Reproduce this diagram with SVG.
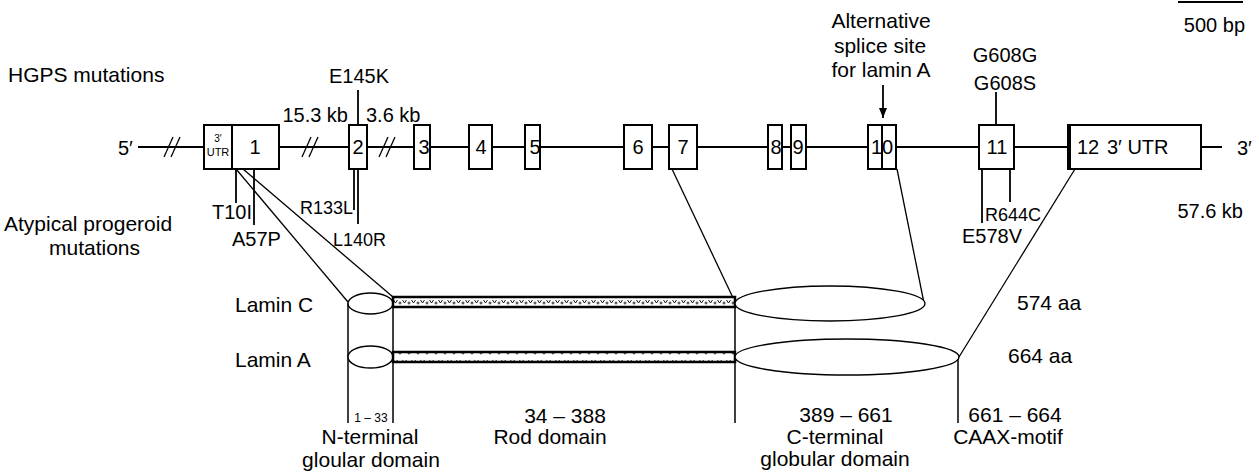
<svg xmlns="http://www.w3.org/2000/svg" width="1259" height="476" viewBox="0 0 1259 476">
<style>
text{font-family:"Liberation Sans",Arial,Helvetica,sans-serif;fill:#000}
.t21{font-size:21px}
.t20{font-size:20px}
.t18{font-size:18px}
.mid{text-anchor:middle}
.exon{fill:#fff;stroke:#000;stroke-width:2}
.ln{fill:none;stroke:#000;stroke-width:2}
.thin{fill:none;stroke:#000;stroke-width:1.3}
.ell{fill:#fff;stroke:#000;stroke-width:1.4}
.rod{fill:url(#hatch);stroke:#000;stroke-width:2.5}
</style>
<defs>
<pattern id="hatch" patternUnits="userSpaceOnUse" x="393" y="297" width="9" height="10">
<rect width="9" height="10" fill="#fff"/>
<path d="M0.5,3 L2.5,6 L4.5,3" fill="none" stroke="#000" stroke-width="0.9"/>
<circle cx="7" cy="6" r="1" fill="none" stroke="#000" stroke-width="0.8"/>
</pattern>
<marker id="arr" markerWidth="10" markerHeight="8" refX="10" refY="4" orient="auto" markerUnits="userSpaceOnUse">
<path d="M0,0 L10,4 L0,8 Z" fill="#000"/>
</marker>
</defs>

<g id="connectors">
<line class="ln" x1="138" y1="147" x2="1222" y2="147"/>
<line class="ln" x1="1178" y1="2" x2="1243" y2="2"/>
<g class="thin">
<line x1="164" y1="157" x2="173" y2="137"/>
<line x1="171" y1="157" x2="180" y2="137"/>
<line x1="302" y1="157" x2="311" y2="137"/>
<line x1="309" y1="157" x2="318" y2="137"/>
<line x1="379" y1="157" x2="388" y2="137"/>
<line x1="386" y1="157" x2="395" y2="137"/>
</g>
<g stroke="#000" stroke-width="1.8" fill="none">
<line x1="358" y1="90" x2="358" y2="125"/>
<line x1="996" y1="92" x2="996" y2="125"/>
<line x1="236" y1="169" x2="236" y2="203"/>
<line x1="254" y1="169" x2="254" y2="225"/>
<line x1="354" y1="169" x2="354" y2="210"/>
<line x1="358" y1="169" x2="358" y2="224"/>
<line x1="982" y1="169" x2="982" y2="223"/>
<line x1="1010" y1="169" x2="1010" y2="202"/>
</g>
<line stroke="#000" stroke-width="1.8" x1="883" y1="85" x2="883" y2="118" marker-end="url(#arr)"/>
<g class="thin">
<line x1="236" y1="169" x2="348" y2="302"/>
<line x1="243" y1="169" x2="393" y2="297"/>
<line x1="672" y1="169" x2="735" y2="302"/>
<line x1="897" y1="169" x2="924" y2="303"/>
<line x1="1075" y1="169" x2="959" y2="357"/>
</g>
<g stroke="#000" stroke-width="1.5">
<line x1="348" y1="303" x2="348" y2="423"/>
<line x1="393" y1="297" x2="393" y2="423"/>
<line x1="735" y1="297" x2="735" y2="423"/>
<line x1="958" y1="357" x2="958" y2="423"/>
</g>
</g>

<g id="exon1"><rect class="exon" x="204" y="125" width="75" height="44"/><line class="ln" x1="232" y1="125" x2="232" y2="169"/>
<text x="218" y="142" class="mid" style="font-size:10px">3′</text><text x="218" y="156" class="mid" style="font-size:11px">UTR</text>
<text x="255" y="154" class="t20 mid">1</text></g>
<g id="exon2"><rect class="exon" x="349" y="125" width="18" height="44"/><text x="358" y="154" class="t20 mid">2</text></g>
<g id="exon3"><rect class="exon" x="414" y="125" width="16" height="44"/><text x="424" y="154" class="t20 mid">3</text></g>
<g id="exon4"><rect class="exon" x="469" y="125" width="23" height="44"/><text x="481" y="154" class="t20 mid">4</text></g>
<g id="exon5"><rect class="exon" x="525" y="125" width="15" height="44"/><text x="535" y="154" class="t20 mid">5</text></g>
<g id="exon6"><rect class="exon" x="624" y="125" width="28" height="44"/><text x="638" y="154" class="t20 mid">6</text></g>
<g id="exon7"><rect class="exon" x="669" y="125" width="28" height="44"/><text x="683" y="154" class="t20 mid">7</text></g>
<g id="exon8"><rect class="exon" x="768" y="125" width="14" height="44"/><text x="776" y="154" class="t20 mid">8</text></g>
<g id="exon9"><rect class="exon" x="791" y="125" width="15" height="44"/><text x="798" y="154" class="t20 mid">9</text></g>
<g id="exon10"><rect class="exon" x="868" y="125" width="28" height="44"/><line class="ln" x1="882" y1="125" x2="882" y2="169"/><text x="882" y="154" class="t20 mid">10</text></g>
<g id="exon11"><rect class="exon" x="979" y="125" width="35" height="44"/><text x="997" y="154" class="t20 mid">11</text></g>
<g id="exon12"><rect class="exon" x="1068" y="125" width="133" height="44"/><line stroke="#000" stroke-width="4" x1="1069" y1="124" x2="1069" y2="170"/><text x="1077" y="154" class="t20">12</text><text x="1107" y="154" class="t20">3′ UTR</text></g>

<g id="gene-labels">
<text x="8" y="82" class="t21">HGPS mutations</text>
<text x="4" y="231" class="t21">Atypical progeroid</text>
<text x="49" y="255" class="t21">mutations</text>
<text x="118" y="155" class="t20">5′</text>
<text x="1237" y="155" class="t20">3′</text>
<text x="1245" y="32" class="t20" text-anchor="end">500 bp</text>
<text x="1243" y="218" class="t20" text-anchor="end">57.6 kb</text>
<text x="348" y="122" class="t20" text-anchor="end">15.3 kb</text>
<text x="366" y="122" class="t20">3.6 kb</text>
<text x="359" y="83" class="t20 mid">E145K</text>
<text x="1005" y="62" class="t20 mid">G608G</text>
<text x="1005" y="90" class="t20 mid">G608S</text>
<text x="881" y="28" class="t21 mid">Alternative</text>
<text x="880" y="53" class="t21 mid">splice site</text>
<text x="881" y="77" class="t21 mid">for lamin A</text>
<text x="212" y="219" class="t20">T10I</text>
<text x="232" y="246" class="t20">A57P</text>
<text x="353" y="214" class="t18" text-anchor="end">R133L</text>
<text x="333" y="246" class="t18">L140R</text>
<text x="985" y="221" class="t18">R644C</text>
<text x="962" y="243" class="t20">E578V</text>
</g>

<g id="laminC">
<text x="235" y="312" class="t21">Lamin C</text>
<ellipse class="ell" cx="370.5" cy="303.5" rx="22.5" ry="10.5"/>
<rect class="rod" x="393" y="297" width="342" height="10"/>
<ellipse class="ell" cx="830" cy="303.5" rx="95" ry="17.5"/>
<text x="1017" y="310" class="t21">574 aa</text>
</g>
<g id="laminA">
<text x="235" y="367" class="t21">Lamin A</text>
<ellipse class="ell" cx="370.5" cy="357" rx="22.5" ry="11"/>
<rect class="rod" x="393" y="352" width="342" height="10"/>
<ellipse class="ell" cx="847" cy="357" rx="112" ry="18"/>
<text x="1008" y="363" class="t21">664 aa</text>
</g>

<g id="domain-labels">
<text x="371" y="422" class="mid" style="font-size:12px">1 – 33</text>
<text x="370" y="444" class="t21 mid">N-terminal</text>
<text x="371" y="467" class="t21 mid">gloular domain</text>
<text x="565" y="423" class="t21 mid">34 – 388</text>
<text x="550" y="444" class="t21 mid">Rod domain</text>
<text x="846" y="422" class="t21 mid">389 – 661</text>
<text x="835" y="444" class="t21 mid">C-terminal</text>
<text x="835" y="466" class="t21 mid">globular domain</text>
<text x="1015" y="422" class="t21 mid">661 – 664</text>
<text x="1008" y="444" class="t21 mid">CAAX-motif</text>
</g>
</svg>
